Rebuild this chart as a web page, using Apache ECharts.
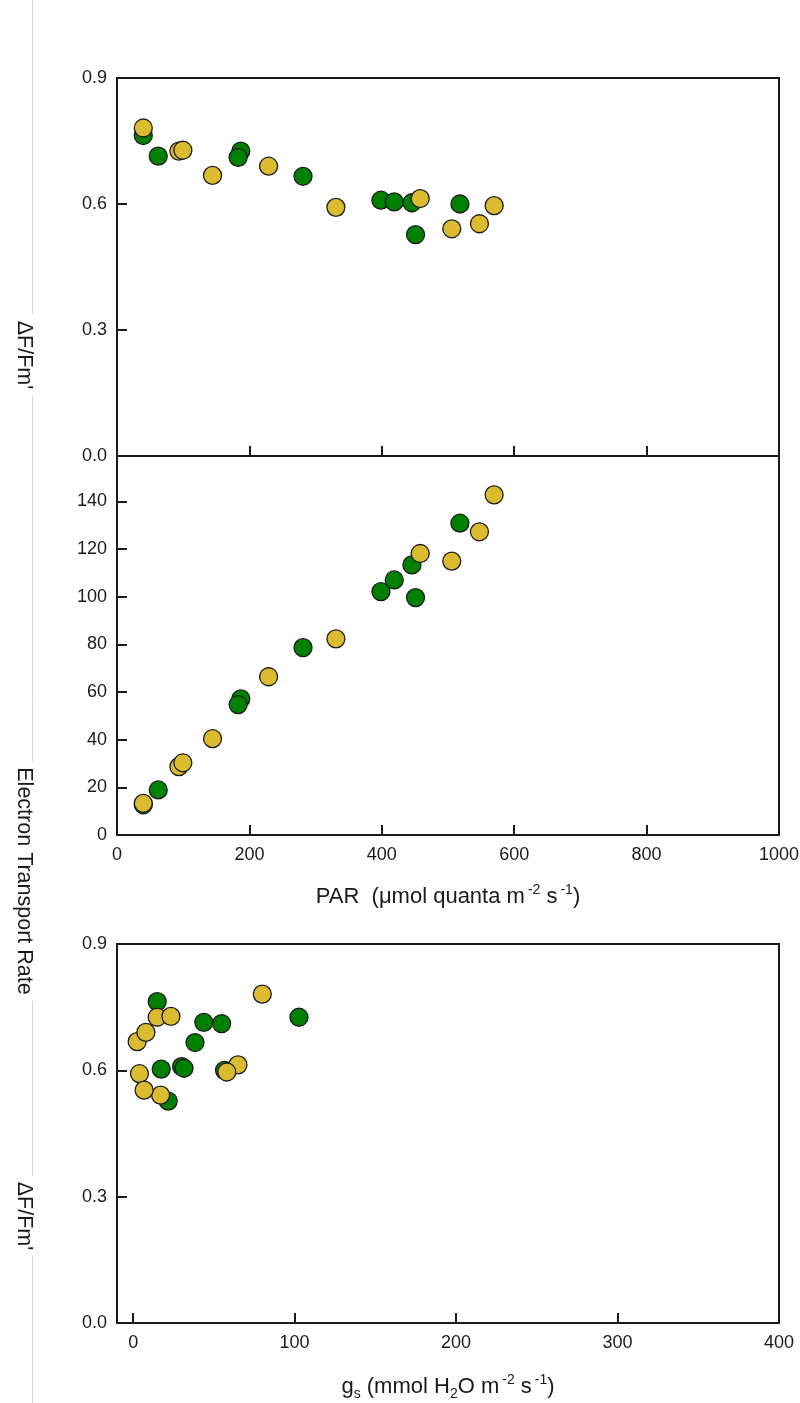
<!DOCTYPE html>
<html>
<head>
<meta charset="utf-8">
<title>Chlorophyll fluorescence vs PAR and stomatal conductance</title>
<script src="https://cdn.jsdelivr.net/npm/echarts@6/dist/echarts.min.js"></script>
<style>
  html, body { margin: 0; padding: 0; background: #fff; }
  #chart { width: 800px; height: 1403px; }
</style>
</head>
<body>
<div id="chart"></div>
<script>
// ---- Measurements: green set ----
const greenPAR   = [39.7, 62.3, 187, 183, 281, 398.7, 418.8, 445.5, 451, 518];
const greenYield = [0.763, 0.714, 0.726, 0.711, 0.666, 0.609, 0.605, 0.603, 0.527, 0.600];
const greenETR   = [12.7, 18.9, 57.1, 54.7, 78.6, 102.1, 107.0, 113.3, 99.6, 130.8];
const greenGs    = [14.9, 43.8, 102.7, 54.8, 38.3, 30.0, 31.5, 17.4, 21.7, 56.6];

// ---- Measurements: yellow set ----
const yellowPAR   = [39.7, 93.5, 99.5, 144.3, 229, 330.7, 458, 505.7, 547.5, 569.7];
const yellowYield = [0.781, 0.726, 0.728, 0.668, 0.690, 0.592, 0.613, 0.541, 0.553, 0.596];
const yellowETR   = [13.3, 28.7, 30.3, 40.4, 66.4, 82.3, 118.1, 114.9, 127.2, 142.7];
const yellowGs    = [80.0, 14.9, 23.4, 2.5, 7.9, 3.9, 64.9, 17.0, 6.8, 58.0];

// ---- Tick values ----
const parTicks       = [200, 400, 600, 800];
const parLabels      = [0, 200, 400, 600, 800, 1000];
const yieldTicks     = [0.3, 0.6];
const yieldLabels    = [0.0, 0.3, 0.6, 0.9];
const etrTicks       = [20, 40, 60, 80, 100, 120, 140];
const etrLabels      = [0, 20, 40, 60, 80, 100, 120, 140];
const gsTicks        = [0, 100, 200, 300];
const gsLabels       = [0, 100, 200, 300, 400];

const FONT = '"Liberation Sans", Arial, Helvetica, sans-serif';
const INK = '#1a1a1a';
const GREEN = '#008000';
const YELLOW = '#dbbb2f';

const zip = (xs, ys) => xs.map((x, i) => [x, ys[i]]);

const tickStyle = { show: true, inside: true, length: 10, lineStyle: { color: INK, width: 2 } };
const lineStyle = { show: true, onZero: false, lineStyle: { color: INK, width: 2 } };
const labelStyle = { color: INK, fontSize: 18, fontFamily: FONT };

function xAxisDef(gridIndex, min, max, ticks, labels, name, nameGap) {
  return {
    type: 'value', gridIndex, min, max,
    axisLine: lineStyle,
    axisTick: Object.assign({ customValues: ticks }, tickStyle),
    axisLabel: labels
      ? Object.assign({ customValues: labels, margin: 11, formatter: v => String(v) }, labelStyle)
      : { show: false },
    splitLine: { show: false },
    name: name || '',
    nameLocation: 'middle',
    nameGap: nameGap || 0,
    nameTextStyle: {
      color: INK, fontSize: 22, fontFamily: FONT, lineHeight: 28,
      rich: {
        sup: { fontSize: 14, fontFamily: FONT, color: INK, verticalAlign: 'top', lineHeight: 18, padding: [0, 0, 0, 3] },
        sub: { fontSize: 14, fontFamily: FONT, color: INK, verticalAlign: 'bottom', lineHeight: 15 }
      }
    }
  };
}

function yAxisDef(gridIndex, min, max, ticks, labels, digits) {
  return {
    type: 'value', gridIndex, min, max,
    axisLine: lineStyle,
    axisTick: Object.assign({ customValues: ticks }, tickStyle),
    axisLabel: Object.assign({
      customValues: labels, margin: 10,
      formatter: v => Number(v).toFixed(digits)
    }, labelStyle),
    splitLine: { show: false }
  };
}

function scatter(name, xi, data, color) {
  return {
    name, type: 'scatter', xAxisIndex: xi, yAxisIndex: xi,
    data, symbol: 'circle', symbolSize: 18,
    itemStyle: { color, borderColor: '#1c1c1c', borderWidth: 1.3, opacity: 1 },
    emphasis: { disabled: true }
  };
}

function yTitle(text, cy) {
  return {
    type: 'text', x: 24, y: cy, rotation: -Math.PI / 2, z: 10,
    style: {
      text, font: '21.5px ' + FONT, fill: INK,
      align: 'center', verticalAlign: 'middle',
      textAlign: 'center', textVerticalAlign: 'middle',
      backgroundColor: '#fff', padding: [2, 6]
    }
  };
}

const chart = echarts.init(document.getElementById('chart'), null, { renderer: 'canvas', width: 800, height: 1403 });

const gridBase = { left: 117, width: 662, show: true, borderColor: INK, borderWidth: 2, backgroundColor: 'transparent', containLabel: false, outerBoundsMode: 'none' };

chart.setOption({
  animation: false,
  backgroundColor: '#fff',
  grid: [
    Object.assign({ top: 78, height: 378 }, gridBase),
    Object.assign({ top: 456, height: 379 }, gridBase),
    Object.assign({ top: 944, height: 379 }, gridBase)
  ],
  xAxis: [
    xAxisDef(0, 0, 1000, parTicks, null),
    xAxisDef(1, 0, 1000, parTicks, parLabels,
      'PAR  (μmol quanta m{sup|-2} s{sup|-1})', 48),
    xAxisDef(2, -10, 400, gsTicks, gsLabels,
      'g{sub|s} (mmol H{sub|2}O m{sup|-2} s{sup|-1})', 50)
  ],
  yAxis: [
    yAxisDef(0, 0, 0.9, yieldTicks, yieldLabels, 1),
    yAxisDef(1, 0, 159, etrTicks, etrLabels, 0),
    yAxisDef(2, 0, 0.9, yieldTicks, yieldLabels, 1)
  ],
  graphic: [
    { type: 'line', z: 1, shape: { x1: 32.5, y1: 0, x2: 32.5, y2: 1403 }, style: { stroke: '#d6d6d6', lineWidth: 1 } },
    yTitle("ΔF/Fm'", 355),
    yTitle('Electron Transport Rate', 881),
    yTitle("ΔF/Fm'", 1216)
  ],
  series: [
    scatter('green', 0, zip(greenPAR, greenYield), GREEN),
    scatter('green', 1, zip(greenPAR, greenETR), GREEN),
    scatter('green', 2, zip(greenGs, greenYield), GREEN),
    scatter('yellow', 0, zip(yellowPAR, yellowYield), YELLOW),
    scatter('yellow', 1, zip(yellowPAR, yellowETR), YELLOW),
    scatter('yellow', 2, zip(yellowGs, yellowYield), YELLOW)
  ]
});
</script>
</body>
</html>
